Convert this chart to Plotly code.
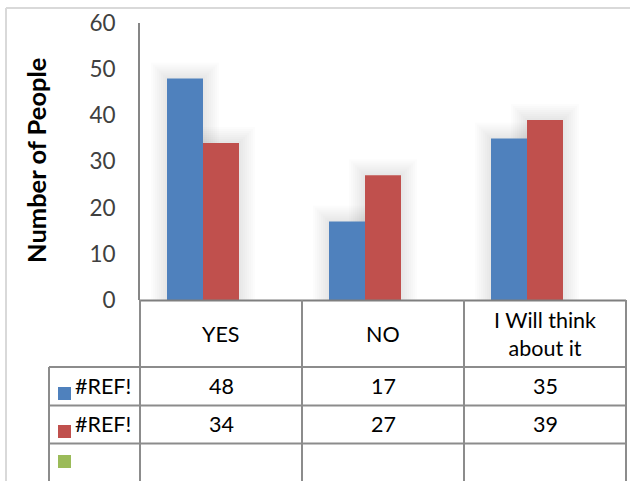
import plotly.graph_objects as go

# Survey answers, two response series plus an empty third series
categories = ["YES", "NO", "I Will think<br>about it"]
series_names = ["#REF!", "#REF!", ""]
series_a = [48, 17, 35]
series_b = [34, 27, 39]
series_c = [None, None, None]
y_ticks = [0, 10, 20, 30, 40, 50, 60]

colors = ["#4F81BD", "#C0504D", "#9BBB59"]
FONT = "Lato"

W, H = 630, 481
L, R, T, B = 140, 626, 23, 300  # plot area in pixels


def px(x):
    return (x - L) / (R - L)


def py(y):
    return (B - y) / (B - T)


fig = go.Figure()
all_series = [series_a, series_b, series_c]
for name, vals, col in zip(series_names, all_series, colors):
    fig.add_trace(go.Bar(x=list(range(len(categories))), y=vals, name=name,
                         marker=dict(color=col, line=dict(width=0))))

shapes = []
# soft drop shadow behind each bar
bar_w = (1 - 1 / 3) / 3
x_unit = 1 / ((R - L) / len(categories))  # data units per pixel (x)
y_unit = 60 / (B - T)                      # data units per pixel (y)
for si, vals in enumerate(all_series):
    for ci, v in enumerate(vals):
        if v is None:
            continue
        cx = ci + (si - 1) * bar_w
        for k in range(1, 9):
            g = k * 2
            shapes.append(dict(type="rect", xref="x", yref="y", layer="below",
                               x0=cx - bar_w / 2 - g * x_unit, x1=cx + bar_w / 2 + g * x_unit,
                               y0=0, y1=v + g * y_unit,
                               fillcolor="rgba(0,0,0,0.011)", line=dict(width=0)))

grid = "#8C8C8C"


def hline(y, x0, x1, color=grid, w=2):
    shapes.append(dict(type="line", xref="paper", yref="paper", x0=px(x0), x1=px(x1),
                       y0=py(y), y1=py(y), line=dict(color=color, width=w)))


def vline(x, y0, y1, color=grid, w=2):
    shapes.append(dict(type="line", xref="paper", yref="paper", x0=px(x), x1=px(x),
                       y0=py(y0), y1=py(y1), line=dict(color=color, width=w)))


# outer chart frame
hline(8, 6, 632, "#D9D9D9", 2)
vline(6, 8, 482, "#D9D9D9", 2)

# data table grid
hline(300.5, 140, 626, "#7F7F7F", 2)
hline(367, 49, 626)
hline(405.5, 49, 626)
hline(443.5, 49, 626)
for x in [140, 302, 464, 626]:
    vline(x, 300, 482)
vline(49, 367, 482)

# legend keys in the table
key_rows = [393.5, 431.5, 461.5]
for yc, col in zip(key_rows, colors):
    shapes.append(dict(type="rect", xref="paper", yref="paper", layer="above",
                       x0=px(58), x1=px(71), y0=py(yc + 6.5), y1=py(yc - 6.5),
                       fillcolor=col, line=dict(width=0)))

annotations = []
tfont = dict(family=FONT, size=21.5, color="#000000")
for i, c in enumerate(categories):
    annotations.append(dict(x=i, xref="x", y=py(334), yref="paper", text=c,
                            showarrow=False, font=tfont, align="center",
                            xanchor="center", yanchor="middle"))
row_y = [386, 424]
for yy, name, vals in zip(row_y, series_names, [series_a, series_b]):
    annotations.append(dict(x=px(73), xref="paper", y=py(yy), yref="paper", text=name,
                            showarrow=False, font=tfont, xanchor="left", yanchor="middle"))
    for i, v in enumerate(vals):
        annotations.append(dict(x=i, xref="x", y=py(yy), yref="paper", text=str(v),
                                showarrow=False, font=tfont,
                                xanchor="center", yanchor="middle"))

# y axis title
annotations.append(dict(x=px(36), xref="paper", y=py(161), yref="paper",
                        text="<b>Number of People</b>", textangle=-90, showarrow=False,
                        xanchor="center", yanchor="middle",
                        font=dict(family=FONT, size=25.5, color="#000000")))

fig.update_layout(
    width=W, height=H,
    margin=dict(l=L, r=W - R, t=T, b=H - B, pad=0),
    paper_bgcolor="white", plot_bgcolor="white",
    barmode="group", bargap=1 / 3, bargroupgap=0,
    showlegend=False,
    shapes=shapes, annotations=annotations,
    xaxis=dict(range=[-0.5, 2.5], showticklabels=False, showgrid=False,
               zeroline=False, showline=False, ticks=""),
    yaxis=dict(range=[0, 60], tickvals=y_ticks, showgrid=False, zeroline=False,
               showline=True, linecolor="#868686", linewidth=2, ticks="",
               ticklabelstandoff=18,
               tickfont=dict(family=FONT, size=22.5, color="#404040")),
)

fig.write_html("out.html")
